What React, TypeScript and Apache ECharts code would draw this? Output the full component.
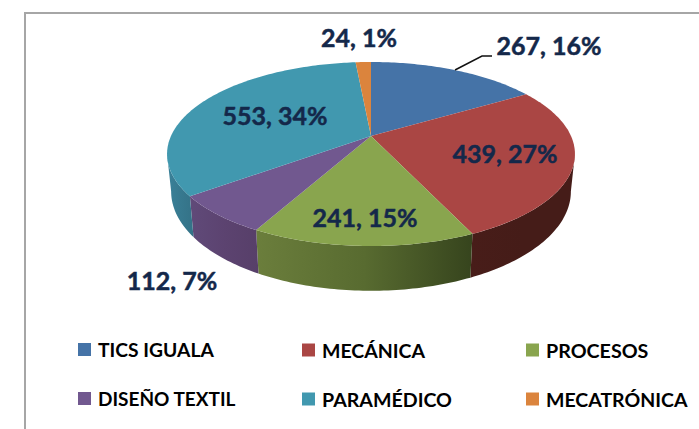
import React, { useEffect, useRef } from "react";
import * as echarts from "echarts";

const categories = ["TICS IGUALA", "MECÁNICA", "PROCESOS", "DISEÑO TEXTIL", "PARAMÉDICO", "MECATRÓNICA"];
const values = [267, 439, 241, 112, 553, 24];
const total = values.reduce((a, b) => a + b, 0);

const topColors = ["#4573a7", "#aa4644", "#89a54e", "#71588f", "#4198af", "#db843d"];
const wallStops: [string, string, string][] = [
  ["#34567d", "#2c4a6c", "#24405d"],
  ["#481d19", "#451c18", "#451c18"],
  ["#6b7e3c", "#586b30", "#36441d"],
  ["#604a79", "#5c4370", "#573f69"],
  ["#3a8199", "#37798f", "#347287"],
  ["#a8642d", "#a8642d", "#a8642d"],
];

// Layout of the hand-placed labels (centre x, centre y) and legend cells, in pixels.
const labelCentres = [
  [549, 45],
  [505, 153],
  [365, 217],
  [172, 280],
  [275, 115],
  [359, 37],
];
const legendCells = [
  [78, 340],
  [302, 340],
  [526, 340],
  [78, 389],
  [302, 389],
  [526, 389],
];
const legendFontSizes = [19.3, 19.5, 19.7, 19, 19.6, 19.5];

// Perspective disc: centre at (CX, CY), foreshortened towards the back.
const CX = 371;
const CY = 136;
const A = 200;
const B = 88.5;
const K = 0.1957;
const DEPTH = 36;
const TAPER = 0.98;

const rim = (deg: number): [number, number, number] => {
  const t = (deg * Math.PI) / 180;
  const u = Math.sin(t);
  const v = Math.cos(t);
  const w = 1 + K * v;
  return [CX + (A * u) / w, CY - (B * v) / w, w];
};
const base = (deg: number): [number, number] => {
  const [x, y, w] = rim(deg);
  return [CX + TAPER * (x - CX), y + DEPTH / w];
};
const sweep = (from: number, to: number) => {
  const out: number[] = [];
  const n = Math.max(1, Math.ceil(to - from));
  for (let i = 0; i <= n; i++) out.push(from + ((to - from) * i) / n);
  return out;
};

const TANGENT = (Math.acos(-K) * 180) / Math.PI;

const sliceRenderer = (index: number) => (_params: any, api: any) => {
  const value = api.value(0);
  const before = values.slice(0, index).reduce((a, b) => a + b, 0);
  const start = (before / total) * 360;
  const end = ((before + value) / total) * 360;
  const children: any[] = [];
  const wFrom = Math.max(start, TANGENT);
  const wTo = Math.min(end, 360 - TANGENT);
  if (wTo > wFrom) {
    const angles = sweep(wFrom, wTo);
    const points = [
      ...angles.map((a) => rim(a).slice(0, 2)),
      ...angles.slice().reverse().map((a) => base(a)),
    ];
    const s = wallStops[index];
    children.push({
      type: "polygon",
      shape: { points },
      style: {
        fill: new echarts.graphic.LinearGradient(0, 0, 1, 0, [
          { offset: 0, color: s[0] },
          { offset: 0.5, color: s[1] },
          { offset: 1, color: s[2] },
        ]),
      },
    });
  }
  children.push({
    type: "polygon",
    shape: { points: [[CX, CY], ...sweep(start, end).map((a) => rim(a).slice(0, 2))] },
    style: { fill: topColors[index] },
  });
  return { type: "group", children };
};

const labelText = (i: number) => `${values[i]}, ${Math.round((values[i] / total) * 100)}%`;

export default function App() {
  const ref = useRef<HTMLDivElement>(null);
  useEffect(() => {
    if (!ref.current) return;
    const chart = echarts.init(ref.current, undefined, { renderer: "svg" });
    chart.setOption({
      animation: false,
      backgroundColor: "#ffffff",
      legend: categories.map((name, i) => ({
        data: [name],
        left: legendCells[i][0],
        top: legendCells[i][1],
        padding: 0,
        itemWidth: 13,
        itemHeight: 13,
        icon: "rect",
        textStyle: {
          fontFamily: "Lato",
          fontWeight: "bold",
          fontSize: legendFontSizes[i],
          color: "#000000",
          padding: [0, 0, 0, 2],
        },
      })),
      series: categories.map((name, i) => ({
        type: "custom",
        name,
        coordinateSystem: "none",
        itemStyle: { color: topColors[i] },
        data: [[values[i]]],
        renderItem: sliceRenderer(i),
      })),
      graphic: [
        {
          type: "polyline",
          silent: true,
          z: 50,
          shape: { points: [[25, 429], [25, 13], [699, 13]] },
          style: { stroke: "#a6a6a6", lineWidth: 2, fill: "none" },
        },
        {
          type: "polyline",
          silent: true,
          z: 50,
          shape: { points: [[455, 70], [482, 56], [492, 56]] },
          style: { stroke: "#111111", lineWidth: 1.5, fill: "none" },
        },
        ...categories.map((_, i) => ({
          type: "text",
          silent: true,
          z: 60,
          x: labelCentres[i][0],
          y: labelCentres[i][1],
          style: {
            text: labelText(i),
            fontFamily: "Lato",
            fontWeight: "bold",
            fontSize: 25,
            fill: "#14284a",
            stroke: "#14284a",
            lineWidth: 0.5,
            align: "center",
            verticalAlign: "middle",
          },
        })),
      ],
    });
    return () => chart.dispose();
  }, []);
  return <div ref={ref} style={{ position: "absolute", left: 0, top: 0, width: 699, height: 429 }} />;
}
